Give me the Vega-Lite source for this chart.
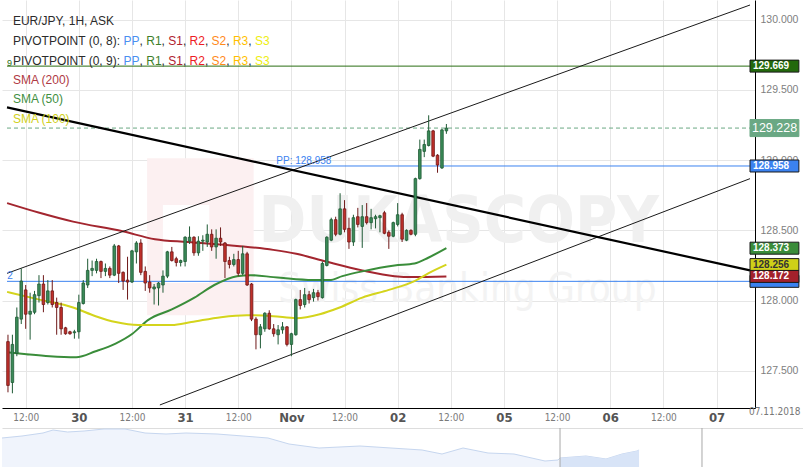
{
  "$schema": "https://vega.github.io/schema/vega-lite/v6.json",
  "padding": 0,
  "spacing": 3,
  "background": "#ffffff",
  "config": {"view": {"stroke": null}, "font": "Liberation Sans", "text": {"font": "Liberation Sans"}},
  "datasets": {
    "candles": [
      {"t":8,"o":127.708,"h":127.757,"l":127.347,"c":127.396},
      {"t":9,"o":127.417,"h":127.757,"l":127.340,"c":127.688},
      {"t":10,"o":127.625,"h":127.951,"l":127.604,"c":127.882},
      {"t":11,"o":127.868,"h":128.229,"l":127.833,"c":128.139},
      {"t":12,"o":128.076,"h":128.111,"l":127.799,"c":127.903},
      {"t":13,"o":127.903,"h":128.056,"l":127.722,"c":127.924},
      {"t":14,"o":127.917,"h":128.069,"l":127.903,"c":128.042},
      {"t":15,"o":128.035,"h":128.181,"l":127.986,"c":128.118},
      {"t":16,"o":128.118,"h":128.181,"l":127.917,"c":127.972},
      {"t":17,"o":127.986,"h":128.146,"l":127.972,"c":128.069},
      {"t":18,"o":128.069,"h":128.146,"l":127.951,"c":127.972},
      {"t":19,"o":127.986,"h":128.021,"l":127.757,"c":127.951},
      {"t":20,"o":127.951,"h":127.986,"l":127.757,"c":127.799},
      {"t":21,"o":127.806,"h":127.813,"l":127.757,"c":127.764},
      {"t":22,"o":127.778,"h":127.785,"l":127.757,"c":127.764},
      {"t":23,"o":127.771,"h":127.792,"l":127.729,"c":127.778},
      {"t":24,"o":127.778,"h":128.042,"l":127.729,"c":127.986},
      {"t":25,"o":127.979,"h":128.146,"l":127.972,"c":128.125},
      {"t":26,"o":128.111,"h":128.298,"l":128.090,"c":128.215},
      {"t":27,"o":128.215,"h":128.285,"l":128.174,"c":128.229},
      {"t":28,"o":128.215,"h":128.298,"l":128.194,"c":128.278},
      {"t":29,"o":128.278,"h":128.285,"l":128.160,"c":128.208},
      {"t":30,"o":128.208,"h":128.264,"l":128.174,"c":128.229},
      {"t":31,"o":128.229,"h":128.243,"l":128.160,"c":128.181},
      {"t":32,"o":128.181,"h":128.403,"l":128.174,"c":128.389},
      {"t":33,"o":128.389,"h":128.396,"l":128.125,"c":128.194},
      {"t":34,"o":128.201,"h":128.208,"l":128.076,"c":128.139},
      {"t":35,"o":128.146,"h":128.312,"l":128.007,"c":128.132},
      {"t":36,"o":128.132,"h":128.361,"l":128.125,"c":128.354},
      {"t":37,"o":128.347,"h":128.423,"l":128.264,"c":128.410},
      {"t":38,"o":128.410,"h":128.437,"l":128.181,"c":128.201},
      {"t":39,"o":128.208,"h":128.243,"l":128.069,"c":128.125},
      {"t":40,"o":128.132,"h":128.181,"l":128.056,"c":128.090},
      {"t":41,"o":128.083,"h":128.118,"l":127.972,"c":128.097},
      {"t":42,"o":128.090,"h":128.132,"l":127.965,"c":128.125},
      {"t":43,"o":128.111,"h":128.215,"l":128.056,"c":128.174},
      {"t":44,"o":128.174,"h":128.354,"l":128.160,"c":128.347},
      {"t":45,"o":128.347,"h":128.382,"l":128.278,"c":128.285},
      {"t":46,"o":128.298,"h":128.312,"l":128.243,"c":128.271},
      {"t":47,"o":128.271,"h":128.292,"l":128.243,"c":128.285},
      {"t":48,"o":128.278,"h":128.458,"l":128.243,"c":128.451},
      {"t":49,"o":128.423,"h":128.528,"l":128.403,"c":128.451},
      {"t":50,"o":128.451,"h":128.458,"l":128.319,"c":128.340},
      {"t":51,"o":128.340,"h":128.458,"l":128.319,"c":128.423},
      {"t":52,"o":128.423,"h":128.465,"l":128.354,"c":128.430},
      {"t":53,"o":128.417,"h":128.542,"l":128.382,"c":128.472},
      {"t":54,"o":128.472,"h":128.507,"l":128.354,"c":128.382},
      {"t":55,"o":128.382,"h":128.507,"l":128.298,"c":128.444},
      {"t":56,"o":128.444,"h":128.521,"l":128.389,"c":128.417},
      {"t":57,"o":128.410,"h":128.417,"l":128.160,"c":128.278},
      {"t":58,"o":128.285,"h":128.312,"l":128.229,"c":128.257},
      {"t":59,"o":128.257,"h":128.333,"l":128.243,"c":128.292},
      {"t":60,"o":128.292,"h":128.354,"l":128.174,"c":128.194},
      {"t":61,"o":128.194,"h":128.389,"l":128.181,"c":128.333},
      {"t":62,"o":128.333,"h":128.347,"l":128.104,"c":128.111},
      {"t":63,"o":128.118,"h":128.125,"l":127.854,"c":127.868},
      {"t":64,"o":127.868,"h":127.882,"l":127.653,"c":127.757},
      {"t":65,"o":127.757,"h":127.833,"l":127.660,"c":127.813},
      {"t":66,"o":127.799,"h":127.917,"l":127.778,"c":127.910},
      {"t":67,"o":127.910,"h":127.931,"l":127.792,"c":127.799},
      {"t":68,"o":127.799,"h":127.833,"l":127.743,"c":127.764},
      {"t":69,"o":127.757,"h":127.826,"l":127.688,"c":127.792},
      {"t":70,"o":127.792,"h":127.847,"l":127.764,"c":127.813},
      {"t":71,"o":127.813,"h":127.819,"l":127.674,"c":127.688},
      {"t":72,"o":127.688,"h":127.771,"l":127.604,"c":127.764},
      {"t":73,"o":127.757,"h":128.014,"l":127.750,"c":128.007},
      {"t":74,"o":128.007,"h":128.076,"l":127.937,"c":127.965},
      {"t":75,"o":127.972,"h":128.090,"l":127.951,"c":128.042},
      {"t":76,"o":128.042,"h":128.069,"l":127.979,"c":128.007},
      {"t":77,"o":128.021,"h":128.083,"l":127.993,"c":128.056},
      {"t":78,"o":128.056,"h":128.076,"l":128.000,"c":128.028},
      {"t":79,"o":128.021,"h":128.278,"l":128.014,"c":128.264},
      {"t":80,"o":128.250,"h":128.458,"l":128.243,"c":128.451},
      {"t":81,"o":128.430,"h":128.590,"l":128.423,"c":128.576},
      {"t":82,"o":128.576,"h":128.597,"l":128.458,"c":128.472},
      {"t":83,"o":128.472,"h":128.764,"l":128.465,"c":128.653},
      {"t":84,"o":128.653,"h":128.715,"l":128.486,"c":128.507},
      {"t":85,"o":128.514,"h":128.590,"l":128.368,"c":128.417},
      {"t":86,"o":128.417,"h":128.611,"l":128.389,"c":128.590},
      {"t":87,"o":128.597,"h":128.660,"l":128.521,"c":128.542},
      {"t":88,"o":128.528,"h":128.680,"l":128.375,"c":128.597},
      {"t":89,"o":128.597,"h":128.694,"l":128.542,"c":128.555},
      {"t":90,"o":128.555,"h":128.653,"l":128.507,"c":128.590},
      {"t":91,"o":128.583,"h":128.611,"l":128.514,"c":128.597},
      {"t":92,"o":128.590,"h":128.611,"l":128.486,"c":128.604},
      {"t":93,"o":128.625,"h":128.639,"l":128.472,"c":128.479},
      {"t":94,"o":128.486,"h":128.500,"l":128.368,"c":128.458},
      {"t":95,"o":128.458,"h":128.562,"l":128.451,"c":128.555},
      {"t":96,"o":128.542,"h":128.694,"l":128.528,"c":128.611},
      {"t":97,"o":128.611,"h":128.625,"l":128.417,"c":128.437},
      {"t":98,"o":128.430,"h":128.507,"l":128.423,"c":128.500},
      {"t":99,"o":128.500,"h":128.507,"l":128.465,"c":128.472},
      {"t":100,"o":128.472,"h":128.875,"l":128.458,"c":128.868},
      {"t":101,"o":128.868,"h":129.146,"l":128.861,"c":129.076},
      {"t":102,"o":129.062,"h":129.146,"l":129.021,"c":129.111},
      {"t":103,"o":129.104,"h":129.319,"l":129.097,"c":129.208},
      {"t":104,"o":129.208,"h":129.215,"l":129.021,"c":129.028},
      {"t":105,"o":129.035,"h":129.042,"l":128.910,"c":128.965},
      {"t":106,"o":128.944,"h":129.222,"l":128.937,"c":129.215},
      {"t":107,"o":129.208,"h":129.257,"l":129.187,"c":129.228}
    ],
    "sma": [
      {"s":"SMA (200)","t":7.8,"v":128.694},{"s":"SMA (200)","t":15.1,"v":128.625},{"s":"SMA (200)","t":22.7,"v":128.562},{"s":"SMA (200)","t":33.9,"v":128.493},{"s":"SMA (200)","t":41.2,"v":128.437},{"s":"SMA (200)","t":48.6,"v":128.417},{"s":"SMA (200)","t":59.7,"v":128.389},{"s":"SMA (200)","t":67.9,"v":128.361},{"s":"SMA (200)","t":73.1,"v":128.333},{"s":"SMA (200)","t":79.8,"v":128.278},{"s":"SMA (200)","t":88,"v":128.215},{"s":"SMA (200)","t":95.3,"v":128.174},{"s":"SMA (200)","t":99.1,"v":128.167},{"s":"SMA (200)","t":107,"v":128.172},
      {"s":"SMA (50)","t":7.8,"v":127.632},{"s":"SMA (50)","t":12.2,"v":127.618},{"s":"SMA (50)","t":17.4,"v":127.604},{"s":"SMA (50)","t":23.4,"v":127.597},{"s":"SMA (50)","t":27.8,"v":127.639},{"s":"SMA (50)","t":32.3,"v":127.694},{"s":"SMA (50)","t":36.1,"v":127.764},{"s":"SMA (50)","t":39.6,"v":127.861},{"s":"SMA (50)","t":45,"v":127.937},{"s":"SMA (50)","t":50.1,"v":128.021},{"s":"SMA (50)","t":54.6,"v":128.111},{"s":"SMA (50)","t":59.7,"v":128.174},{"s":"SMA (50)","t":62.8,"v":128.181},{"s":"SMA (50)","t":67.9,"v":128.167},{"s":"SMA (50)","t":70.2,"v":128.160},{"s":"SMA (50)","t":76.8,"v":128.146},{"s":"SMA (50)","t":80.6,"v":128.146},{"s":"SMA (50)","t":83.5,"v":128.174},{"s":"SMA (50)","t":88,"v":128.208},{"s":"SMA (50)","t":95.3,"v":128.250},{"s":"SMA (50)","t":99.8,"v":128.264},{"s":"SMA (50)","t":102.9,"v":128.305},{"s":"SMA (50)","t":107,"v":128.373},
      {"s":"SMA (100)","t":7.8,"v":128.062},{"s":"SMA (100)","t":15.1,"v":128.007},{"s":"SMA (100)","t":22.7,"v":127.951},{"s":"SMA (100)","t":27.8,"v":127.889},{"s":"SMA (100)","t":32.3,"v":127.847},{"s":"SMA (100)","t":37.4,"v":127.826},{"s":"SMA (100)","t":45,"v":127.826},{"s":"SMA (100)","t":49.4,"v":127.847},{"s":"SMA (100)","t":56.1,"v":127.882},{"s":"SMA (100)","t":61.9,"v":127.896},{"s":"SMA (100)","t":67.9,"v":127.889},{"s":"SMA (100)","t":73.1,"v":127.875},{"s":"SMA (100)","t":78.4,"v":127.903},{"s":"SMA (100)","t":82.9,"v":127.951},{"s":"SMA (100)","t":88,"v":128.021},{"s":"SMA (100)","t":94,"v":128.076},{"s":"SMA (100)","t":99.8,"v":128.139},{"s":"SMA (100)","t":102.9,"v":128.194},{"s":"SMA (100)","t":107,"v":128.256}
    ],
    "trend": [
      {"id":"A","t":7.78,"v":129.375},{"id":"A","t":175.56,"v":128.215},
      {"id":"B","t":7.78,"v":128.194},{"id":"B","t":175.56,"v":130.104},
      {"id":"C","t":42.3,"v":127.257},{"id":"C","t":175.56,"v":128.868}
    ],
    "labels": [
      {"k":"PP2","v":128.137},{"k":"R1","v":129.669},{"k":"last","v":129.228},{"k":"PP","v":128.958},{"k":"SMA50","v":128.373},{"k":"SMA100","v":128.256},{"k":"SMA200","v":128.172}
    ],
    "nav": [
      {"t":-652.6,"v":131.8},{"t":-628.9,"v":132.2},{"t":-604.1,"v":132.8},{"t":-592.2,"v":133.4},{"t":-575,"v":133.0},{"t":-555.5,"v":133.2},{"t":-531.9,"v":133.6},{"t":-507,"v":133.6},{"t":-483.3,"v":132.8},{"t":-458.5,"v":132.6},{"t":-434.8,"v":132.8},{"t":-398.1,"v":132.6},{"t":-367.4,"v":132.2},{"t":-337.8,"v":131.8},{"t":-312.9,"v":130.6},{"t":-277.4,"v":129.8},{"t":-228.9,"v":130.2},{"t":-192.2,"v":129.8},{"t":-155.5,"v":129.4},{"t":-131.9,"v":128.6},{"t":-107,"v":129.8},{"t":-77.4,"v":128.8},{"t":-46.7,"v":128.6},{"t":-10,"v":127.2},{"t":5.4,"v":127.4},{"t":7.78,"v":127.8},{"t":38.5,"v":128.2},{"t":62.2,"v":127.6},{"t":81.2,"v":128.6},{"t":98.9,"v":129.2},{"t":101.3,"v":129.4}
    ]
  },
  "vconcat": [
    {
      "width": 753,
      "height": 408,
      "layer": [
        {"data": {"values": [{}]}, "mark": {"type": "rect", "color": "#fcf0f1"},
         "encoding": {
           "x": {"datum": 39.42, "type": "quantitative", "scale": {"domain": [7.78, 175.56], "nice": false, "zero": false},
                 "axis": {"title": null, "values": [12,24,36,48,60,72,84,96,108,120,132,144,156,168],
                          "labelExpr": "datum.value % 24 == 12 ? '12:00' : datum.value == 24 ? '30' : datum.value == 48 ? '31' : datum.value == 72 ? 'Nov' : datum.value == 96 ? '02' : datum.value == 120 ? '05' : datum.value == 144 ? '06' : '07'",
                          "grid": true, "gridColor": "#e6e6e6", "domainColor": "#000000", "ticks": false, "tickSize": 0,
                          "labelPadding": 9, "labelBaseline": "middle", "labelOverlap": false, "labelFlush": false,
                          "labelFont": "Liberation Sans Narrow, DejaVu Sans Condensed, sans-serif",
                          "labelFontSize": {"condition": {"test": "datum.value % 24 == 12", "value": 10}, "value": 13},
                          "labelFontWeight": {"condition": {"test": "datum.value % 24 == 12", "value": "normal"}, "value": "bold"},
                          "labelColor": {"condition": {"test": "datum.value % 24 == 12", "value": "#7a7a7a"}, "value": "#555555"}}},
           "x2": {"datum": 63.48},
           "y": {"datum": 129.014, "type": "quantitative", "scale": {"domain": [127.271, 130.104], "nice": false, "zero": false},
                 "axis": {"orient": "right", "title": null, "values": [127.5,128,128.5,129,129.5,130], "format": ".3f",
                          "grid": true, "gridColor": "#e6e6e6", "domainColor": "#000000", "ticks": false, "tickSize": 0,
                          "labelPadding": 5, "labelColor": "#808080", "labelFontSize": 10.5}},
           "y2": {"datum": 127.896}}},
        {"data": {"values": [{}]}, "mark": {"type": "rect", "color": "#ffffff"},
         "encoding": {"x": {"datum": 42.98}, "x2": {"datum": 53.46}, "y": {"datum": 128.680}, "y2": {"datum": 128.125}}},
        {"data": {"values": [{}]}, "mark": {"type": "text", "text": "DUKASCOPY", "font": "Liberation Sans Narrow, DejaVu Sans Condensed, sans-serif", "fontWeight": "bold", "fontSize": 64, "color": "#f0f0f0", "align": "left", "baseline": "alphabetic"},
         "encoding": {"x": {"datum": 64.6}, "y": {"datum": 128.417}}},
        {"data": {"values": [{}]}, "mark": {"type": "text", "text": "Swiss Banking Group", "font": "Liberation Sans Narrow, DejaVu Sans Condensed, sans-serif", "fontSize": 40, "color": "#f3f3f3", "align": "left", "baseline": "alphabetic"},
         "encoding": {"x": {"datum": 69.05}, "y": {"datum": 127.993}}},
        {"data": {"values": [{}]}, "mark": {"type": "rule", "color": "#2a6e12", "strokeWidth": 1},
         "encoding": {"x": {"datum": 7.78}, "x2": {"datum": 175.56}, "y": {"datum": 129.669}}},
        {"data": {"values": [{}]}, "mark": {"type": "rule", "color": "#6aa884", "strokeWidth": 1, "strokeDash": [4, 3]},
         "encoding": {"x": {"datum": 7.78}, "x2": {"datum": 175.56}, "y": {"datum": 129.228}}},
        {"data": {"values": [{}]}, "mark": {"type": "rule", "color": "#3b82f0", "strokeWidth": 1},
         "encoding": {"x": {"datum": 68}, "x2": {"datum": 175.56}, "y": {"datum": 128.958}}},
        {"data": {"values": [{}]}, "mark": {"type": "rule", "color": "#3b82f0", "strokeWidth": 1},
         "encoding": {"x": {"datum": 7.78}, "x2": {"datum": 175.56}, "y": {"datum": 128.137}}},
        {"data": {"name": "sma"}, "mark": {"type": "line", "strokeWidth": 2, "interpolate": "monotone", "clip": true},
         "encoding": {"x": {"field": "t", "type": "quantitative"}, "y": {"field": "v", "type": "quantitative"},
                      "color": {"field": "s", "type": "nominal", "scale": {"domain": ["SMA (200)", "SMA (50)", "SMA (100)"], "range": ["#a3262f", "#3a8d3a", "#d4d41c"]}, "legend": null}}},
        {"data": {"name": "trend"}, "transform": [{"filter": "datum.id != 'A'"}], "mark": {"type": "line", "color": "#1a1a1a", "strokeWidth": 1, "clip": true},
         "encoding": {"x": {"field": "t", "type": "quantitative"}, "y": {"field": "v", "type": "quantitative"}, "detail": {"field": "id", "type": "nominal"}}},
        {"data": {"name": "trend"}, "transform": [{"filter": "datum.id == 'A'"}], "mark": {"type": "line", "color": "#000000", "strokeWidth": 2.2, "clip": true},
         "encoding": {"x": {"field": "t", "type": "quantitative"}, "y": {"field": "v", "type": "quantitative"}}},
        {"data": {"name": "candles"}, "mark": {"type": "rule", "strokeWidth": 1, "clip": true},
         "encoding": {"x": {"field": "t", "type": "quantitative"}, "y": {"field": "l", "type": "quantitative"}, "y2": {"field": "h"},
                      "color": {"condition": {"test": "datum.c >= datum.o", "value": "#1f5a35"}, "value": "#6e1818"}}},
        {"data": {"name": "candles"}, "mark": {"type": "bar", "width": 2.6, "strokeWidth": 0.8, "clip": true},
         "encoding": {"x": {"field": "t", "type": "quantitative"}, "y": {"field": "o", "type": "quantitative"}, "y2": {"field": "c"},
                      "fill": {"condition": {"test": "datum.c >= datum.o", "value": "#3a8a58"}, "value": "#c0302a"},
                      "stroke": {"condition": {"test": "datum.c >= datum.o", "value": "#1f5a35"}, "value": "#6e1818"}}},
        {"data": {"values": [{}]}, "mark": {"type": "text", "text": "PP: 128.958", "fontSize": 10, "color": "#3b82f0", "align": "left", "baseline": "alphabetic", "dy": -2},
         "encoding": {"x": {"datum": 68.6}, "y": {"datum": 128.958}}},
        {"data": {"values": [{}]}, "mark": {"type": "text", "text": "9", "fontSize": 9, "color": "#2a6e12", "align": "left", "baseline": "alphabetic", "dy": 0},
         "encoding": {"x": {"datum": 7.8}, "y": {"datum": 129.669}}},
        {"data": {"values": [{}]}, "mark": {"type": "text", "text": "2", "fontSize": 10, "color": "#3b82f0", "align": "left", "baseline": "alphabetic", "dy": -2},
         "encoding": {"x": {"datum": 7.85}, "y": {"datum": 128.137}}},
        {"data": {"values": [{}]}, "mark": {"type": "text", "text": "EUR/JPY, 1H, ASK", "fontSize": 12, "color": "#2b2b2b", "align": "left", "baseline": "alphabetic"},
         "encoding": {"x": {"datum": 9.113}, "y": {"datum": 129.960}}},
        {"data": {"values": [{}]}, "mark": {"type": "text", "text": ["PIVOTPOINT (0, 8):", "PIVOTPOINT (0, 9):"], "lineHeight": 20, "fontSize": 12, "color": "#2b2b2b", "align": "left", "baseline": "alphabetic"},
         "encoding": {"x": {"datum": 9.113}, "y": {"datum": 129.821}}},
        {"data": {"values": [{}]}, "mark": {"type": "text", "text": ["PP", "PP"], "dx": 110.67, "lineHeight": 20, "fontSize": 12, "color": "#4a8ff0", "align": "left", "baseline": "alphabetic"},
         "encoding": {"x": {"datum": 9.113}, "y": {"datum": 129.821}}},
        {"data": {"values": [{}]}, "mark": {"type": "text", "text": ["R1", "R1"], "dx": 133.33, "lineHeight": 20, "fontSize": 12, "color": "#3d7f2a", "align": "left", "baseline": "alphabetic"},
         "encoding": {"x": {"datum": 9.113}, "y": {"datum": 129.821}}},
        {"data": {"values": [{}]}, "mark": {"type": "text", "text": ["S1", "S1"], "dx": 155.33, "lineHeight": 20, "fontSize": 12, "color": "#b0222e", "align": "left", "baseline": "alphabetic"},
         "encoding": {"x": {"datum": 9.113}, "y": {"datum": 129.821}}},
        {"data": {"values": [{}]}, "mark": {"type": "text", "text": ["R2", "R2"], "dx": 176.67, "lineHeight": 20, "fontSize": 12, "color": "#ee1c25", "align": "left", "baseline": "alphabetic"},
         "encoding": {"x": {"datum": 9.113}, "y": {"datum": 129.821}}},
        {"data": {"values": [{}]}, "mark": {"type": "text", "text": ["S2", "S2"], "dx": 198.67, "lineHeight": 20, "fontSize": 12, "color": "#ff8a1a", "align": "left", "baseline": "alphabetic"},
         "encoding": {"x": {"datum": 9.113}, "y": {"datum": 129.821}}},
        {"data": {"values": [{}]}, "mark": {"type": "text", "text": ["R3", "R3"], "dx": 220.0, "lineHeight": 20, "fontSize": 12, "color": "#ffbf00", "align": "left", "baseline": "alphabetic"},
         "encoding": {"x": {"datum": 9.113}, "y": {"datum": 129.821}}},
        {"data": {"values": [{}]}, "mark": {"type": "text", "text": ["S3", "S3"], "dx": 242.0, "lineHeight": 20, "fontSize": 12, "color": "#eeee10", "align": "left", "baseline": "alphabetic"},
         "encoding": {"x": {"datum": 9.113}, "y": {"datum": 129.821}}},
        {"data": {"values": [{}]}, "mark": {"type": "text", "text": [",", ","], "dx": 126.67, "lineHeight": 20, "fontSize": 12, "color": "#2b2b2b", "align": "left", "baseline": "alphabetic"},
         "encoding": {"x": {"datum": 9.113}, "y": {"datum": 129.821}}},
        {"data": {"values": [{}]}, "mark": {"type": "text", "text": [",", ","], "dx": 148.67, "lineHeight": 20, "fontSize": 12, "color": "#2b2b2b", "align": "left", "baseline": "alphabetic"},
         "encoding": {"x": {"datum": 9.113}, "y": {"datum": 129.821}}},
        {"data": {"values": [{}]}, "mark": {"type": "text", "text": [",", ","], "dx": 170.0, "lineHeight": 20, "fontSize": 12, "color": "#2b2b2b", "align": "left", "baseline": "alphabetic"},
         "encoding": {"x": {"datum": 9.113}, "y": {"datum": 129.821}}},
        {"data": {"values": [{}]}, "mark": {"type": "text", "text": [",", ","], "dx": 192.0, "lineHeight": 20, "fontSize": 12, "color": "#2b2b2b", "align": "left", "baseline": "alphabetic"},
         "encoding": {"x": {"datum": 9.113}, "y": {"datum": 129.821}}},
        {"data": {"values": [{}]}, "mark": {"type": "text", "text": [",", ","], "dx": 213.33, "lineHeight": 20, "fontSize": 12, "color": "#2b2b2b", "align": "left", "baseline": "alphabetic"},
         "encoding": {"x": {"datum": 9.113}, "y": {"datum": 129.821}}},
        {"data": {"values": [{}]}, "mark": {"type": "text", "text": [",", ","], "dx": 235.33, "lineHeight": 20, "fontSize": 12, "color": "#2b2b2b", "align": "left", "baseline": "alphabetic"},
         "encoding": {"x": {"datum": 9.113}, "y": {"datum": 129.821}}},
        {"data": {"values": [{}]}, "mark": {"type": "text", "text": "SMA (200)", "fontSize": 12, "color": "#b03a44", "align": "left", "baseline": "alphabetic"},
         "encoding": {"x": {"datum": 9.113}, "y": {"datum": 129.544}}},
        {"data": {"values": [{}]}, "mark": {"type": "text", "text": "SMA (50)", "fontSize": 12, "color": "#3f8f3f", "align": "left", "baseline": "alphabetic"},
         "encoding": {"x": {"datum": 9.113}, "y": {"datum": 129.405}}},
        {"data": {"values": [{}]}, "mark": {"type": "text", "text": "SMA (100)", "fontSize": 12, "color": "#d0d020", "align": "left", "baseline": "alphabetic"},
         "encoding": {"x": {"datum": 9.113}, "y": {"datum": 129.266}}},
        {"data": {"name": "labels"}, "mark": {"type": "bar", "orient": "horizontal", "strokeWidth": 1},
         "encoding": {"x": {"datum": 175.56}, "x2": {"datum": 186.6}, "y": {"field": "v", "type": "quantitative"},
                      "size": {"condition": {"test": "datum.k == 'last'", "value": 17}, "value": 12},
                      "fill": {"field": "k", "type": "nominal", "scale": {"domain": ["PP2","R1","last","PP","SMA50","SMA100","SMA200"], "range": ["#3b82f0","#23690c","#6aa884","#3b82f0","#3a8c3a","#cfd118","#a3212b"]}, "legend": null},
                      "stroke": {"condition": {"test": "datum.k == 'last'", "value": "#6aa884"}, "value": "#1a1a1a"}}},
        {"data": {"name": "labels"}, "transform": [{"filter": "datum.k != 'last' && datum.k != 'PP2'"}], "mark": {"type": "text", "align": "left", "baseline": "middle", "fontSize": 10, "fontWeight": "bold"},
         "encoding": {"x": {"datum": 176.23}, "y": {"field": "v", "type": "quantitative"}, "text": {"field": "v", "type": "quantitative", "format": ".3f"},
                      "color": {"condition": {"test": "datum.k == 'SMA100'", "value": "#333333"}, "value": "#ffffff"}}},
        {"data": {"name": "labels"}, "transform": [{"filter": "datum.k == 'last'"}], "mark": {"type": "text", "align": "left", "baseline": "middle", "fontSize": 12.5, "color": "#ffffff"},
         "encoding": {"x": {"datum": 176.0}, "y": {"field": "v", "type": "quantitative"}, "text": {"field": "v", "type": "quantitative", "format": ".3f"}}},
        {"data": {"values": [{}]}, "mark": {"type": "text", "text": "07.11.2018", "fontSize": 10, "color": "#777777", "align": "center", "baseline": "middle", "font": "Liberation Sans Narrow, DejaVu Sans Condensed, sans-serif"},
         "encoding": {"x": {"datum": 181.13}, "y": {"datum": 127.208}}}
      ]
    },
    {
      "width": 803,
      "height": 40,
      "layer": [
        {"data": {"name": "nav"}, "mark": {"type": "area", "color": "#e9f0fb", "line": {"color": "#c6d6ef", "strokeWidth": 1}},
         "encoding": {"x": {"field": "t", "type": "quantitative", "scale": {"domain": [-652.6, 297.7], "nice": false, "zero": false},
                            "axis": {"orient": "top", "title": null, "labels": false, "ticks": false, "grid": false, "domainColor": "#dddddd"}},
                      "y": {"field": "v", "type": "quantitative", "scale": {"domain": [125.8, 133.8], "nice": false, "zero": false}, "axis": null}}},
        {"data": {"name": "nav"}, "transform": [{"filter": "datum.t >= 7.78"}], "mark": {"type": "area", "color": "#d8e4f7"},
         "encoding": {"x": {"field": "t", "type": "quantitative"}, "y": {"field": "v", "type": "quantitative"}}},
        {"data": {"values": [{}]}, "mark": {"type": "rule", "color": "#a8a8a8", "strokeWidth": 1},
         "encoding": {"x": {"datum": 7.78}}},
        {"data": {"values": [{}]}, "mark": {"type": "rule", "color": "#a8a8a8", "strokeWidth": 1},
         "encoding": {"x": {"datum": 175.8}}}
      ]
    }
  ]
}
